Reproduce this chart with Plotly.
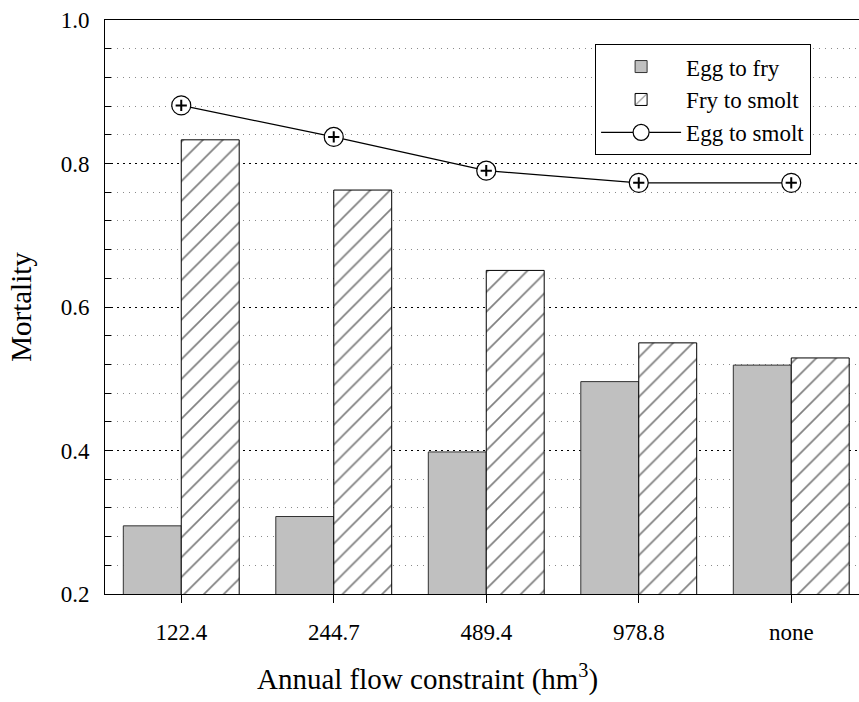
import plotly.graph_objects as go

categories = ["122.4", "244.7", "489.4", "978.8", "none"]
egg_to_fry = [0.295, 0.308, 0.398, 0.496, 0.519]
fry_to_smolt = [0.833, 0.763, 0.651, 0.550, 0.529]
egg_to_smolt = [0.881, 0.837, 0.790, 0.773, 0.773]

y_ticks = [0.2, 0.4, 0.6, 0.8, 1.0]
y_tick_labels = ["0.2", "0.4", "0.6", "0.8", "1.0"]

FONT = "Liberation Serif, Times New Roman, serif"

fig = go.Figure()
fig.add_trace(go.Bar(
    x=categories, y=egg_to_fry, name="Egg to fry",
    marker=dict(color="#c0c0c0", line=dict(color="#333333", width=1)),
))
fig.add_trace(go.Bar(
    x=categories, y=fry_to_smolt, name="Fry to smolt",
    marker=dict(color="white", line=dict(color="black", width=1),
                pattern=dict(shape="/", size=14, solidity=0.12, fgcolor="black", bgcolor="white")),
))
fig.add_trace(go.Scatter(
    x=categories, y=egg_to_smolt, name="Egg to smolt", mode="lines+markers",
    line=dict(color="black", width=1.3),
    marker=dict(symbol="circle", size=19, color="white", line=dict(color="black", width=1.2)),
))
fig.add_trace(go.Scatter(
    x=categories, y=egg_to_smolt, mode="markers", showlegend=False, hoverinfo="skip",
    marker=dict(symbol="cross-thin-open", size=8, color="black", line=dict(color="black", width=2)),
))

fig.update_layout(
    width=859, height=702,
    margin=dict(l=105, r=0, t=20, b=108),
    paper_bgcolor="white", plot_bgcolor="white",
    font=dict(family=FONT, size=23, color="black"),
    barmode="group", bargap=0.24, bargroupgap=0,
    showlegend=True,
    legend=dict(
        x=0.65, y=0.958, xanchor="left", yanchor="top",
        bgcolor="white", bordercolor="black", borderwidth=1,
        font=dict(family=FONT, size=23), itemwidth=80,
        entrywidth=150, tracegroupgap=2,
    ),
    annotations=[dict(
        text="Annual flow constraint (hm<sup>3</sup>)",
        xref="paper", yref="paper", x=0.428, y=-0.146,
        xanchor="center", yanchor="middle", showarrow=False,
        font=dict(family=FONT, size=29),
    )],
)

fig.update_xaxes(
    range=[-0.5, -0.5 + 754 / 152.5],
    showline=True, linecolor="black", linewidth=1, mirror=True,
    ticks="outside", ticklen=8, tickcolor="black",
    showgrid=False, tickfont=dict(family=FONT, size=23),
    ticklabelstandoff=9,
)
fig.update_yaxes(
    range=[0.2, 1.0],
    tickvals=y_ticks, ticktext=y_tick_labels,
    showline=True, linecolor="black", linewidth=1,
    ticks="inside", ticklen=6, tickcolor="black",
    showgrid=True, gridcolor="black", gridwidth=1, griddash="2px,4px",
    minor=dict(dtick=0.04, tick0=0.2, ticks="inside", ticklen=6, tickcolor="black",
               showgrid=True, gridcolor="#8a8a8a", gridwidth=1, griddash="1px,5px"),
    zeroline=False,
    tickfont=dict(family=FONT, size=23),
    ticklabelstandoff=10,
    title=dict(text="Mortality", font=dict(family=FONT, size=29), standoff=20),
)

fig.write_html("out.html")
